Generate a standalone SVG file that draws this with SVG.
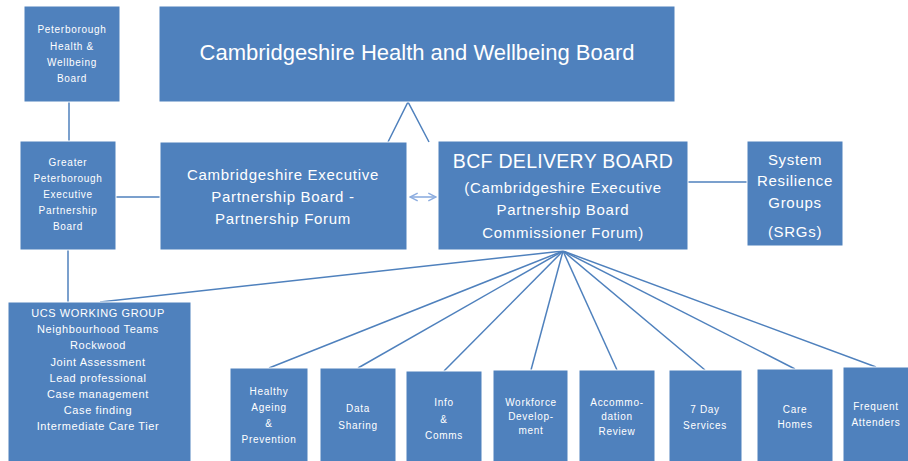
<svg xmlns="http://www.w3.org/2000/svg" width="908" height="461" viewBox="0 0 908 461">
  <defs>
    <style>
      .box { fill: #4f81bd; stroke: #ffffff; stroke-width: 1; }
      .conn { stroke: #4f81bd; stroke-width: 1.5; fill: none; }
      .t { fill: #ffffff; font-family: "Liberation Sans", Arial, sans-serif; text-anchor: middle; }
      .xs { font-size: 10px; letter-spacing: 0.7px; }
      .s { font-size: 11px; letter-spacing: 0.6px; }
      .m { font-size: 15px; letter-spacing: 0.7px; }
      .l { font-size: 19.5px; letter-spacing: 0.3px; }
      .xl { font-size: 22px; }
    </style>
    <marker id="arrowHead" viewBox="0 0 10 10" refX="9" refY="5" markerWidth="6" markerHeight="6" orient="auto-start-reverse">
      <path d="M1,1 L9,5 L1,9" fill="none" stroke="#8eaee0" stroke-width="1.6"/>
    </marker>
  </defs>

  <rect width="908" height="461" fill="#ffffff"/>

  <!-- connectors -->
  <g id="connectors">
    <line class="conn" x1="69" y1="102" x2="69" y2="141"/>
    <line class="conn" x1="116" y1="197" x2="160" y2="197"/>
    <line class="conn" x1="68" y1="250" x2="68" y2="302"/>
    <polyline class="conn" points="388,142 408,102 429,142"/>
    <line x1="410" y1="197" x2="436" y2="197" stroke="#8eaee0" stroke-width="1.6" marker-start="url(#arrowHead)" marker-end="url(#arrowHead)"/>
    <line class="conn" x1="688" y1="182" x2="747" y2="182"/>
    <!-- fan-out from the delivery board -->
    <line class="conn" x1="563" y1="251" x2="100" y2="302"/>
    <line class="conn" x1="563" y1="251" x2="269" y2="368"/>
    <line class="conn" x1="563" y1="251" x2="358" y2="368"/>
    <line class="conn" x1="563" y1="251" x2="444" y2="371"/>
    <line class="conn" x1="563" y1="251" x2="531" y2="370"/>
    <line class="conn" x1="563" y1="251" x2="617" y2="370"/>
    <line class="conn" x1="563" y1="251" x2="705" y2="370"/>
    <line class="conn" x1="563" y1="251" x2="795" y2="369"/>
    <line class="conn" x1="563" y1="251" x2="876" y2="367"/>
  </g>

  <g id="peterborough-hwb">
    <rect class="box" x="24" y="6" width="96" height="96"/>
    <text class="t xs" x="72" y="33">Peterborough</text>
    <text class="t xs" x="72" y="50">Health &amp;</text>
    <text class="t xs" x="72" y="66">Wellbeing</text>
    <text class="t xs" x="72" y="82">Board</text>
  </g>

  <g id="cambs-hwb">
    <rect class="box" x="159" y="6" width="516" height="96"/>
    <text class="t xl" x="417" y="60">Cambridgeshire Health and Wellbeing Board</text>
  </g>

  <g id="greater-peterborough">
    <rect class="box" x="20" y="141" width="96" height="109"/>
    <text class="t xs" x="68" y="166">Greater</text>
    <text class="t xs" x="68" y="182">Peterborough</text>
    <text class="t xs" x="68" y="198">Executive</text>
    <text class="t xs" x="68" y="214">Partnership</text>
    <text class="t xs" x="68" y="230">Board</text>
  </g>

  <g id="cambs-executive">
    <rect class="box" x="160" y="142" width="247" height="108"/>
    <text class="t m" x="283" y="180">Cambridgeshire  Executive</text>
    <text class="t m" x="283" y="202">Partnership Board -</text>
    <text class="t m" x="283" y="224">Partnership Forum</text>
  </g>

  <g id="bcf-delivery-board">
    <rect class="box" x="438" y="141" width="250" height="109"/>
    <text class="t l" x="563" y="168">BCF DELIVERY BOARD</text>
    <text class="t m" x="563" y="193">(Cambridgeshire  Executive</text>
    <text class="t m" x="563" y="215">Partnership Board</text>
    <text class="t m" x="563" y="238">Commissioner Forum)</text>
  </g>

  <g id="system-resilience">
    <rect class="box" x="747" y="141" width="96" height="105"/>
    <text class="t m" x="795" y="165">System</text>
    <text class="t m" x="795" y="186">Resilience</text>
    <text class="t m" x="795" y="208">Groups</text>
    <text class="t m" x="795" y="237">(SRGs)</text>
  </g>

  <g id="ucs-working-group">
    <rect class="box" x="8" y="302" width="183" height="162"/>
    <text class="t s" x="98" y="317">UCS WORKING GROUP</text>
    <text class="t s" x="98" y="333">Neighbourhood Teams</text>
    <text class="t s" x="98" y="349">Rockwood</text>
    <text class="t s" x="98" y="366">Joint Assessment</text>
    <text class="t s" x="98" y="382">Lead professional</text>
    <text class="t s" x="98" y="398">Case management</text>
    <text class="t s" x="98" y="414">Case finding</text>
    <text class="t s" x="98" y="430">Intermediate Care Tier</text>
  </g>

  <g id="healthy-ageing">
    <rect class="box" x="230" y="368" width="78" height="97"/>
    <text class="t xs" x="269" y="395">Healthy</text>
    <text class="t xs" x="269" y="411">Ageing</text>
    <text class="t xs" x="269" y="427">&amp;</text>
    <text class="t xs" x="269" y="443">Prevention</text>
  </g>

  <g id="data-sharing">
    <rect class="box" x="320" y="368" width="76" height="97"/>
    <text class="t xs" x="358" y="412">Data</text>
    <text class="t xs" x="358" y="429">Sharing</text>
  </g>

  <g id="info-comms">
    <rect class="box" x="406" y="371" width="76" height="94"/>
    <text class="t xs" x="444" y="406">Info</text>
    <text class="t xs" x="444" y="423">&amp;</text>
    <text class="t xs" x="444" y="439">Comms</text>
  </g>

  <g id="workforce">
    <rect class="box" x="493" y="370" width="75" height="95"/>
    <text class="t xs" x="531" y="406">Workforce</text>
    <text class="t xs" x="531" y="420">Develop-</text>
    <text class="t xs" x="531" y="434">ment</text>
  </g>

  <g id="accommodation">
    <rect class="box" x="579" y="370" width="76" height="95"/>
    <text class="t xs" x="617" y="406">Accommo-</text>
    <text class="t xs" x="617" y="420">dation</text>
    <text class="t xs" x="617" y="435">Review</text>
  </g>

  <g id="seven-day">
    <rect class="box" x="669" y="370" width="73" height="95"/>
    <text class="t xs" x="705" y="413">7 Day</text>
    <text class="t xs" x="705" y="429">Services</text>
  </g>

  <g id="care-homes">
    <rect class="box" x="757" y="369" width="76" height="96"/>
    <text class="t xs" x="795" y="413">Care</text>
    <text class="t xs" x="795" y="428">Homes</text>
  </g>

  <g id="frequent-attenders">
    <rect class="box" x="843" y="367" width="66" height="98"/>
    <text class="t xs" x="876" y="410">Frequent</text>
    <text class="t xs" x="876" y="426">Attenders</text>
  </g>
</svg>
